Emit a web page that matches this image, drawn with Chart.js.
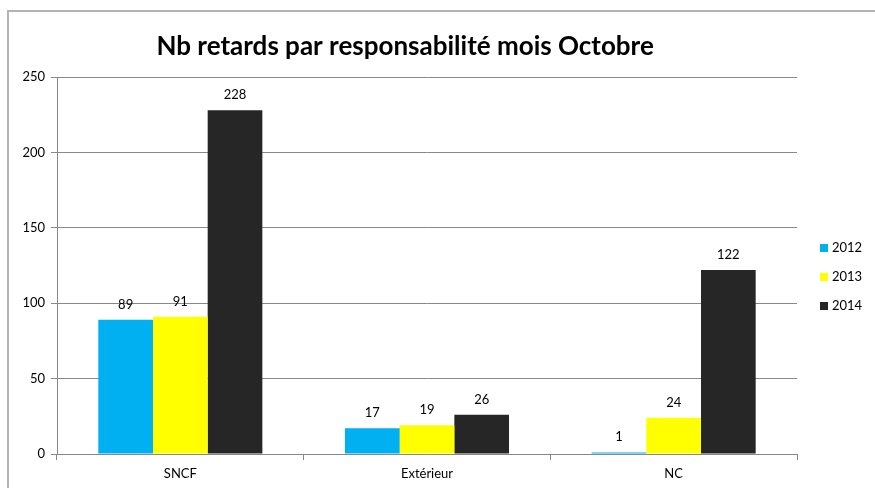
<!DOCTYPE html>
<html>
<head>
<meta charset="utf-8">
<script src="https://cdn.jsdelivr.net/npm/chart.js"></script>
<style>
  html, body { margin: 0; background: #fff; overflow: hidden; }
  #wrap { position: relative; width: 875px; height: 488px; overflow: hidden; }
  #frame { position: absolute; left: 7px; top: 10px; width: 868px; height: 478px;
           border-left: 2px solid #b4b4b4; border-top: 2px solid #b4b4b4; }
  canvas { position: absolute; left: 0; top: 0; }
  #legend { position: absolute; left: 820px; top: 238px; font: 13px Lato, sans-serif; color: #000; }
  #legend div { height: 29px; line-height: 18px; }
  #legend span { display: inline-block; width: 8px; height: 8px; margin-right: 4px; }
</style>
</head>
<body>
<div id="wrap">
  <div id="frame"></div>
  <canvas id="c" width="875" height="488"></canvas>
  <div id="legend"></div>
</div>
<script>
// data
const categories = ['SNCF', 'Extérieur', 'NC'];
const seriesNames = ['2012', '2013', '2014'];
const values2012 = [89, 17, 1];
const values2013 = [91, 19, 24];
const values2014 = [228, 26, 122];
const colors = ['#00B0F0', '#FFFF00', '#262626'];
const titleText = 'Nb retards par responsabilité mois Octobre';

const allValues = [values2012, values2013, values2014];

// legend (html)
const legend = document.getElementById('legend');
seriesNames.forEach((name, i) => {
  const row = document.createElement('div');
  row.innerHTML = `<span style="background:${colors[i]}"></span>${name}`;
  legend.appendChild(row);
});

// value labels above bars
const barLabels = {
  id: 'barLabels',
  afterDatasetsDraw(chart) {
    const ctx = chart.ctx;
    ctx.save();
    ctx.font = '13px Lato, sans-serif';
    ctx.fillStyle = '#000';
    ctx.textAlign = 'center';
    ctx.textBaseline = 'alphabetic';
    chart.data.datasets.forEach((ds, di) => {
      chart.getDatasetMeta(di).data.forEach((bar, i) => {
        ctx.fillText(String(ds.data[i]), bar.x, bar.y - 11);
      });
    });
    ctx.restore();
  }
};

// title drawn slightly left of centre, like the excel frame
const chartTitle = {
  id: 'chartTitle',
  afterDraw(chart) {
    const ctx = chart.ctx;
    ctx.save();
    ctx.font = 'bold 26px Lato, sans-serif';
    ctx.fillStyle = '#000';
    ctx.textAlign = 'center';
    ctx.textBaseline = 'middle';
    ctx.fillText(titleText, chart.width * 0.463, 47);
    ctx.restore();
  }
};

new Chart(document.getElementById('c').getContext('2d'), {
  type: 'bar',
  data: {
    labels: categories,
    datasets: seriesNames.map((name, i) => ({
      label: name,
      data: allValues[i],
      backgroundColor: colors[i],
      borderWidth: 0,
      barPercentage: 1,
      categoryPercentage: 0.665
    }))
  },
  options: {
    responsive: false,
    animation: false,
    layout: { padding: { left: 0, right: 78, top: 77, bottom: 0 } },
    plugins: {
      legend: { display: false },
      title: { display: false },
      tooltip: { enabled: false }
    },
    scales: {
      x: {
        offset: true,
        grid: { offset: true, drawOnChartArea: false, drawTicks: true, tickLength: 6, color: '#888' },
        border: { color: '#888' },
        ticks: { color: '#000', font: { family: 'Lato', size: 13 }, padding: 6 },
        afterFit(scale) { scale.height = 34; }
      },
      y: {
        min: 0,
        max: 250,
        ticks: { stepSize: 50, color: '#000', font: { family: 'Lato', size: 13 }, padding: 6 },
        grid: { color: '#888', tickLength: 6 },
        border: { color: '#888' },
        afterFit(scale) { scale.width = 57; }
      }
    }
  },
  plugins: [barLabels, chartTitle]
});
</script>
</body>
</html>
